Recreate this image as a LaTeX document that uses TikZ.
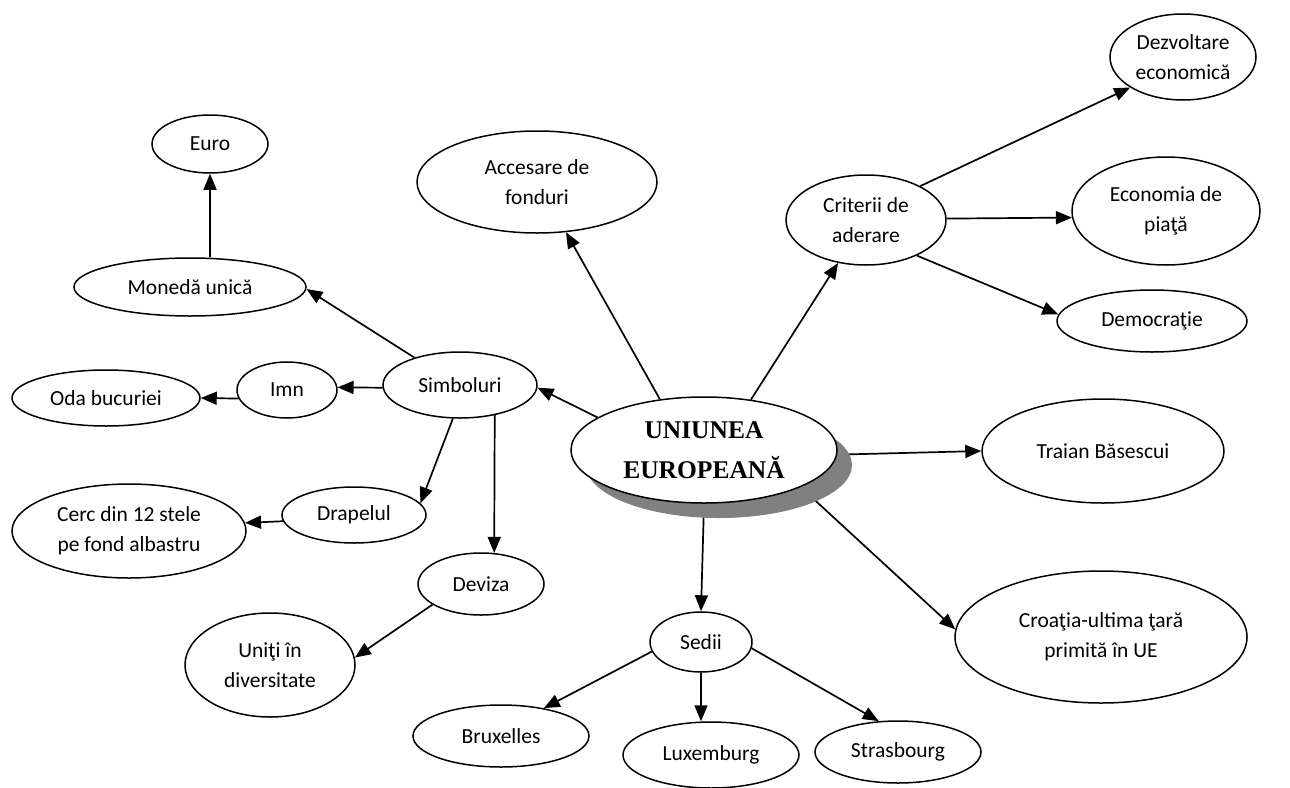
\documentclass[tikz,border=0pt]{standalone}
\usepackage{fontspec}
\setmainfont{Carlito}
\newfontfamily\uefont{Liberation Serif}
\usetikzlibrary{shapes.geometric,arrows.meta,shadows,backgrounds}
\begin{document}
\begin{tikzpicture}[x=1pt,y=-1pt,
  el/.style={draw,ellipse,line width=1.5pt,fill=white,inner sep=0pt,align=center,
    font=\fontsize{21.5}{30}\selectfont},
  arr/.style={line width=1.7pt,-{Triangle[length=16pt,width=13pt]}}]
\useasboundingbox (0,0) rectangle (1290,787);
\node[el,minimum width=266pt,minimum height=106pt,
  general shadow={shadow xshift=15pt,shadow yshift=-15pt,fill=gray},
  font=\uefont\bfseries\fontsize{25.5}{40}\selectfont] (ue) at (704,450) {UNIUNEA\\EUROPEANĂ};
\node[el,minimum width=240pt,minimum height=102pt] (acc) at (537,182) {Accesare de\\fonduri};
\node[el,minimum width=160pt,minimum height=90pt] (crit) at (866,220) {Criterii de\\aderare};
\node[el,minimum width=146pt,minimum height=86pt] (dez) at (1183,57) {Dezvoltare\\economică};
\node[el,minimum width=188pt,minimum height=108pt] (eco) at (1166,211) {Economia de\\piaţă};
\node[el,minimum width=190pt,minimum height=62pt] (dem) at (1152,321) {Democraţie};
\node[el,minimum width=242pt,minimum height=104pt] (tr) at (1103,451) {Traian Băsescui};
\node[el,minimum width=292pt,minimum height=132pt] (cro) at (1101,637) {Croaţia-ultima ţară\\primită în UE};
\node[el,minimum width=116pt,minimum height=58pt] (eu) at (210,144) {Euro};
\node[el,minimum width=232pt,minimum height=58pt] (mon) at (190,287) {Monedă unică};
\node[el,minimum width=154pt,minimum height=66pt] (simb) at (460,385) {Simboluri};
\node[el,minimum width=100pt,minimum height=56pt] (imn) at (287,390) {Imn};
\node[el,minimum width=188pt,minimum height=56pt] (oda) at (106,398) {Oda bucuriei};
\node[el,minimum width=144pt,minimum height=56pt] (drap) at (354,515) {Drapelul};
\node[el,minimum width=234pt,minimum height=94pt] (cerc) at (129,531) {Cerc din 12 stele\\pe fond albastru};
\node[el,minimum width=126pt,minimum height=62pt] (dev) at (481,584) {Deviza};
\node[el,minimum width=170pt,minimum height=104pt] (uni) at (270,665) {Uniţi în\\diversitate};
\node[el,minimum width=102pt,minimum height=60pt] (sed) at (701,642) {Sedii};
\node[el,minimum width=176pt,minimum height=62pt] (bru) at (501,736) {Bruxelles};
\node[el,minimum width=176pt,minimum height=66pt] (lux) at (711,755) {Luxemburg};
\node[el,minimum width=166pt,minimum height=62pt] (str) at (898,752) {Strasbourg};
\begin{scope}[on background layer]
\draw[arr] (ue.131) -- (acc.-60);
\draw[arr] (ue.47) -- (crit.237);
\draw[arr] (ue.163) -- (simb.-2);
\draw[arr] (ue.-2) -- (tr.west);
\draw[arr] (ue.-21) -- (cro.177);
\draw[arr] (ue.south) -- (sed.north);
\draw[arr] (simb.149) -- (mon.-1);
\draw[arr] (eu.south |- mon.north) -- (eu.south);
\draw[arr] (simb.182) -- (imn.3);
\draw[arr] (imn.190) -- (oda.east);
\draw[arr] (simb.258) -- (drap.10);
\draw[arr] (drap.185) -- (cerc.4);
\draw[arr] (simb.-41) -- (dev.67);
\draw[arr] (dev.203) -- (uni.5);
\draw[arr] (sed.191) -- (bru.33);
\draw[arr] (sed.south) -- (sed.south |- lux.north);
\draw[arr] (sed.-7) -- (str.122);
\draw[arr] (crit.32) -- (dez.210);
\draw[arr] (crit.1) -- (eco.184);
\draw[arr] (crit.-35) -- (dem.176);
\end{scope}
\end{tikzpicture}
\end{document}
